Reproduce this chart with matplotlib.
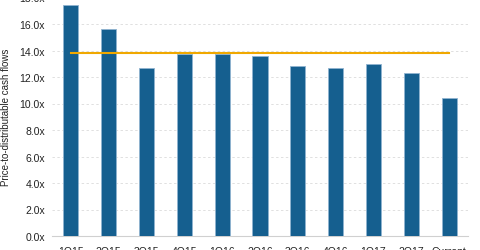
import matplotlib
matplotlib.use("Agg")
from matplotlib import pyplot as plt
import numpy as np

# chart data
quarters = ["1Q15", "2Q15", "3Q15", "4Q15", "1Q16", "2Q16", "3Q16", "4Q16", "1Q17", "2Q17", "Current"]
multiples = [17.4, 15.6, 12.65, 13.75, 13.75, 13.55, 12.8, 12.7, 13.0, 12.3, 10.4]
average = [13.8] * len(quarters)
y_ticks = [0, 2, 4, 6, 8, 10, 12, 14, 16, 18]

plt.rcParams["font.family"] = ["Liberation Sans", "DejaVu Sans"]

fig = plt.figure(figsize=(4.8, 2.51), dpi=100)
ax = fig.add_axes([52 / 480, 14 / 251, 416 / 480, 238.5 / 251])

x = np.arange(len(quarters))
ax.bar(x, multiples, width=0.4, color="#155f8f", edgecolor="#8fb3d0", linewidth=0.6, zorder=3)
ax.plot(x, average, color="#f0a800", linewidth=1.5, zorder=4)

ax.set_xlim(-0.5, len(quarters) - 0.5)
ax.set_ylim(0, 18)
ax.set_yticks(y_ticks)
ax.set_yticklabels(["%.1fx" % v for v in y_ticks])
ax.set_xticks(x)
ax.set_xticklabels(quarters)

ax.grid(axis="y", color="#e0e0e0", linestyle=(0, (2.5, 2.5)), linewidth=0.7, zorder=0)
for side in ["top", "right", "left"]:
    ax.spines[side].set_visible(False)
ax.spines["bottom"].set_color("#d0d0d0")
ax.tick_params(axis="both", length=0, labelsize=7.5, colors="#222222")
ax.tick_params(axis="x", pad=7)
ax.tick_params(axis="y", pad=5)

ax.set_ylabel("Price-to-distributable cash flows", fontsize=7, color="#222222", labelpad=6)

fig.savefig("out.png", dpi=100)
